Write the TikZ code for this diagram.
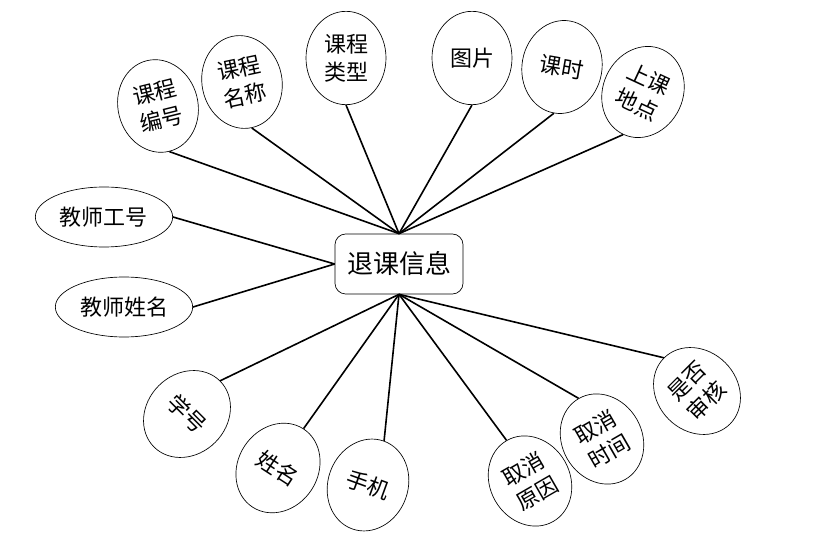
\documentclass[tikz,border=0pt]{standalone}
\usepackage{fontspec}
\setmainfont{Noto Sans CJK SC}
\usepackage{tikz}
\usetikzlibrary{shapes.geometric}
\tikzset{
  attr/.style={draw, ellipse, line width=0.5pt, inner sep=0pt, minimum width=60pt, minimum height=70pt, align=center, font=\fontsize{16.5}{21}\selectfont},
  attrwide/.style={draw, ellipse, line width=0.5pt, inner sep=0pt, minimum width=103pt, minimum height=45pt, font=\fontsize{16.5}{21}\selectfont},
  entity/.style={draw, rounded corners=8pt, line width=0.5pt, minimum width=96pt, minimum height=45pt, font=\fontsize{19.5}{23}\selectfont},
  link/.style={line width=1.2pt}
}

\begin{document}
\begin{tikzpicture}[x=0.75pt,y=-0.75pt]
    \useasboundingbox (0,0) rectangle (818,545);
    % Entity
    \node[entity] (tuike) at (399,264) {退课信息};
    % Upper attributes
    \node[attr, rotate=14] (kcbh) at (158,106) {课程\\编号};
    \node[attr, rotate=12] (kcmc) at (242,82) {课程\\名称};
    \node[attr] (kclx) at (346,58) {课程\\类型};
    \node[attr] (tp) at (472,58) {图片};
    \node[attr, rotate=-10] (ks) at (562,67) {课时};
    \node[attr, rotate=-25] (skdd) at (643,92) {上课\\地点};
    % Left attributes
    \node[attrwide] (jsgh) at (104,217) {教师工号};
    \node[attrwide] (jsxm) at (124,307) {教师姓名};
    % Lower attributes
    \node[attr, rotate=-45] (xh) at (187,414) {学号};
    \node[attr, rotate=-33] (xm) at (278,468) {姓名};
    \node[attr, rotate=-20] (sj) at (368,485) {手机};
    \node[attr, rotate=30] (qxyy) at (530,481) {取消\\原因};
    \node[attr, rotate=30] (qxsj) at (602,439) {取消\\时间};
    \node[attr, rotate=45] (sfsh) at (697,391) {是否\\审核};
    % Links to top
    \draw[link] (tuike.north) -- (kcbh.south);
    \draw[link] (tuike.north) -- (kcmc.south);
    \draw[link] (tuike.north) -- (kclx.south);
    \draw[link] (tuike.north) -- (tp.south);
    \draw[link] (tuike.north) -- (ks.south);
    \draw[link] (tuike.north) -- (skdd.south);
    % Links to left
    \draw[link] (tuike.west) -- (jsgh.east);
    \draw[link] (tuike.west) -- (jsxm.east);
    % Links to bottom
    \draw[link] (tuike.south) -- (xh.north);
    \draw[link] (tuike.south) -- (xm.north);
    \draw[link] (tuike.south) -- (sj.north);
    \draw[link] (tuike.south) -- (qxyy.north);
    \draw[link] (tuike.south) -- (qxsj.north);
    \draw[link] (tuike.south) -- (sfsh.north);
\end{tikzpicture}
\end{document}
